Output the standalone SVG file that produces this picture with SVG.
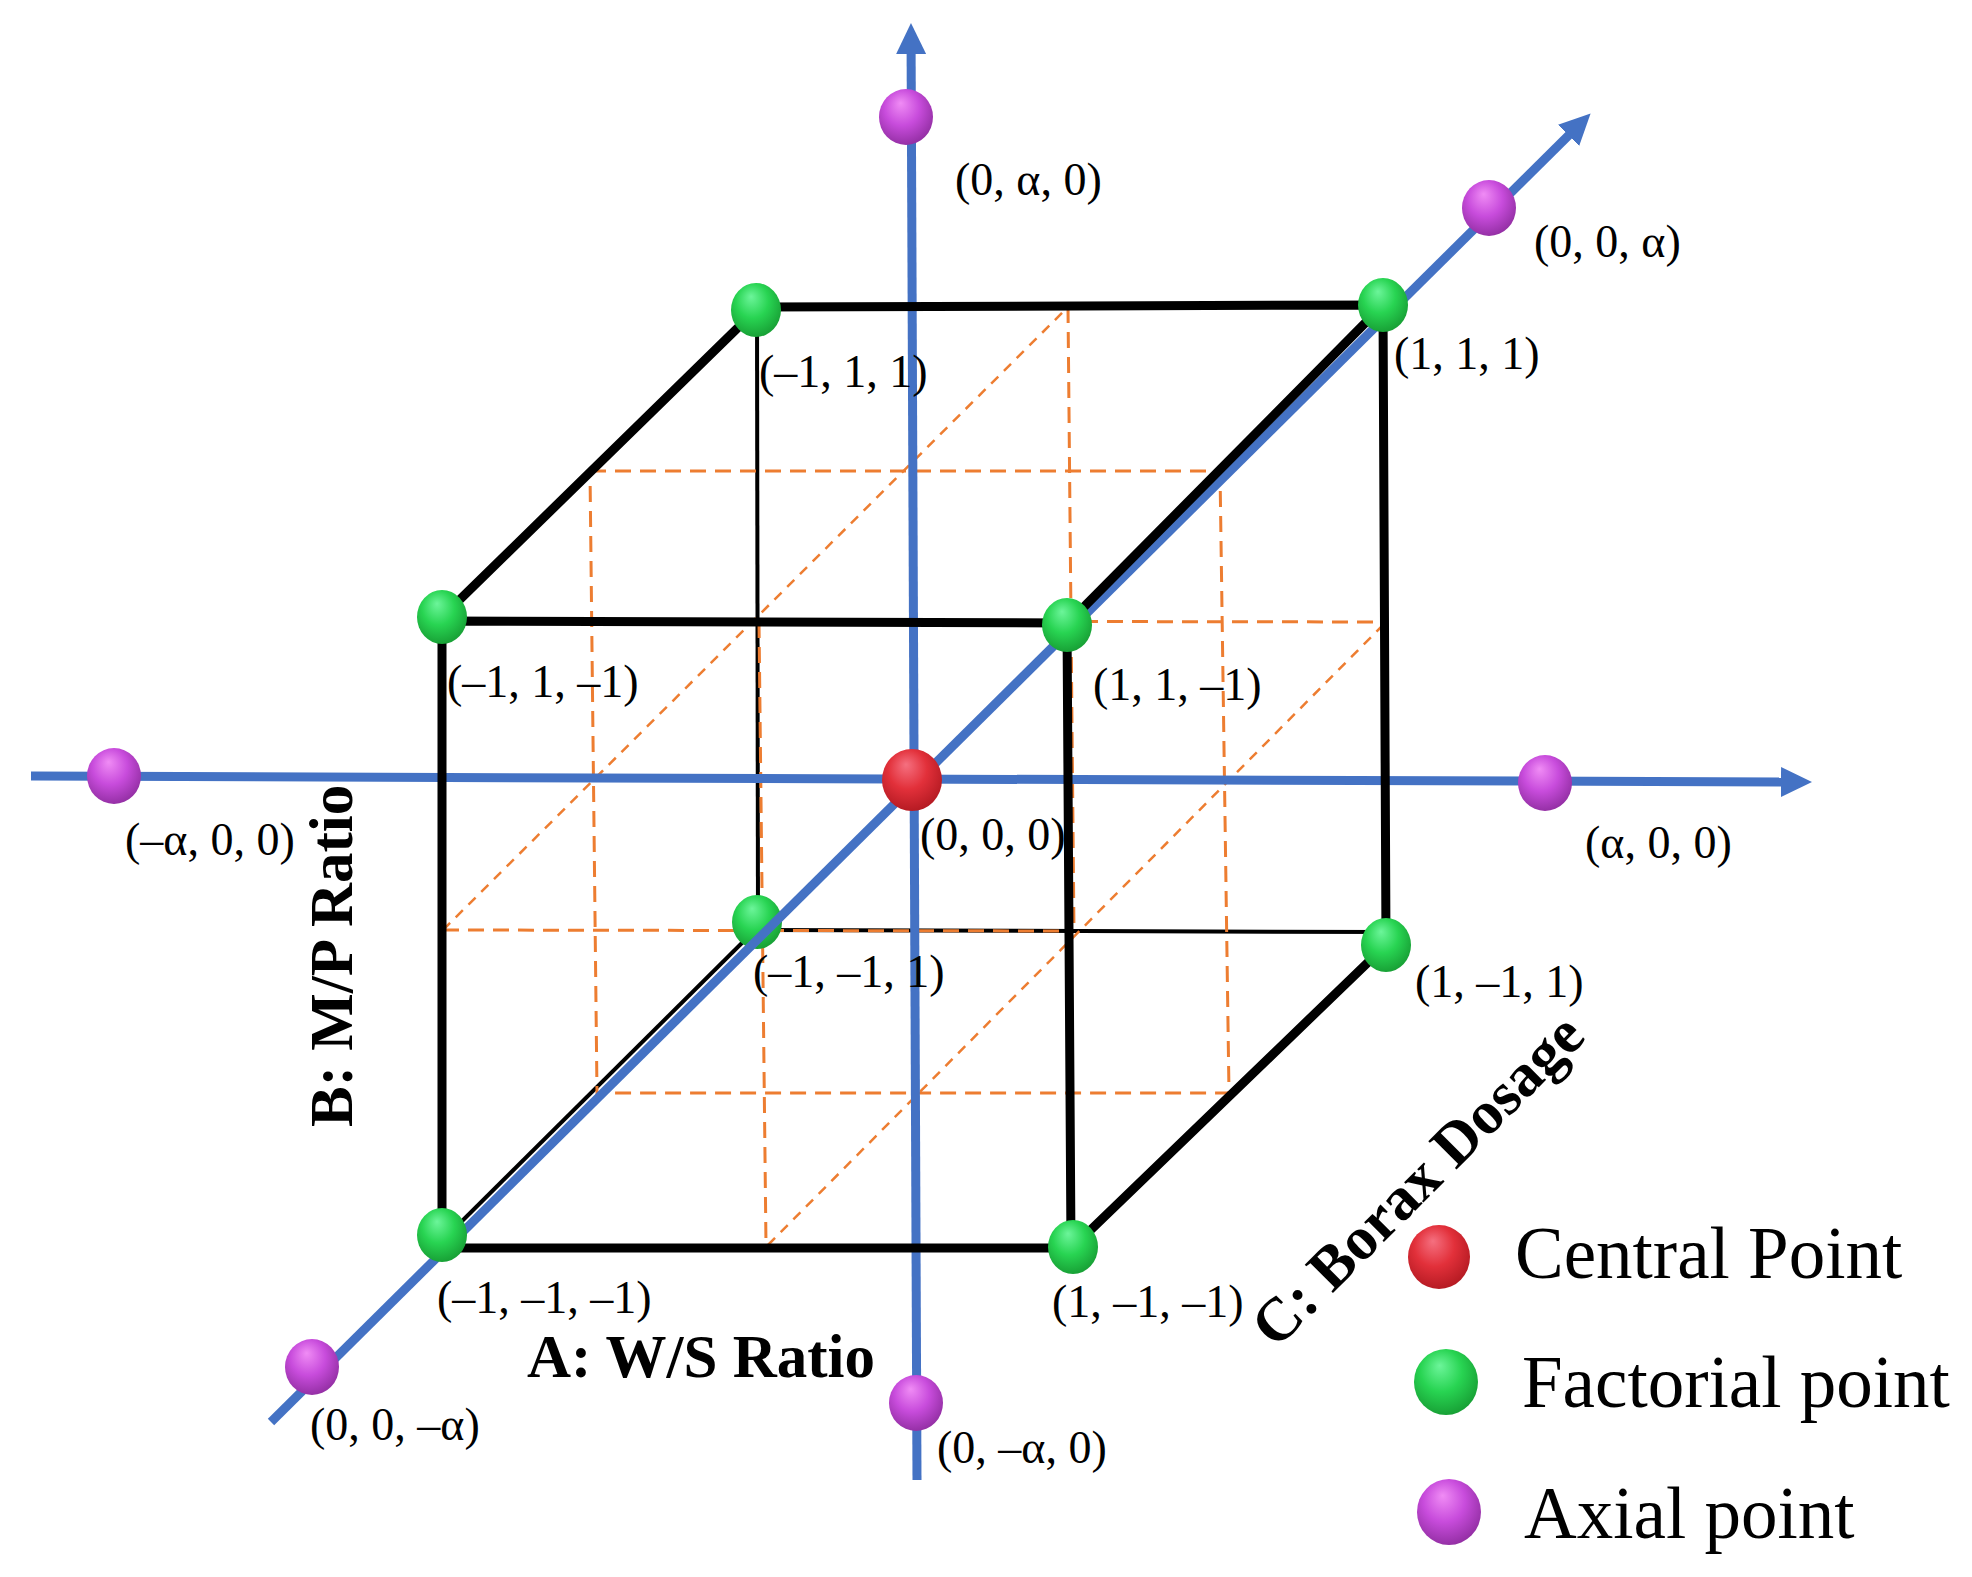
<svg xmlns="http://www.w3.org/2000/svg" width="1972" height="1577" viewBox="0 0 1972 1577">
<style>
.lbl{font-family:"Liberation Serif","Times New Roman",serif;font-size:46px;fill:#000}
.ax{font-family:"Liberation Serif","Times New Roman",serif;font-size:61px;font-weight:bold;fill:#000}
.leg{font-family:"Liberation Serif","Times New Roman",serif;font-size:73px;fill:#000}
.thick{stroke:#000;stroke-width:9;fill:none;stroke-linecap:round}
.thin{stroke:#000;stroke-width:4;fill:none}
.dash{stroke:#ED7D31;stroke-width:3;fill:none;stroke-dasharray:16 9}
.ddiag{stroke:#ED7D31;stroke-width:2.5;fill:none;stroke-dasharray:10 8}
.axis{stroke:#4472C4;stroke-width:9;fill:none;marker-end:url(#arr)}
.g{fill:url(#gG)}
.r{fill:url(#gR)}
.p{fill:url(#gP)}
</style>
<defs>
<radialGradient id="gG" cx="0.45" cy="0.4" r="0.65" fx="0.4" fy="0.25">
<stop offset="0" stop-color="#6CF59A"/><stop offset="0.5" stop-color="#28D452"/><stop offset="1" stop-color="#169A32"/>
</radialGradient>
<radialGradient id="gR" cx="0.45" cy="0.4" r="0.65" fx="0.4" fy="0.25">
<stop offset="0" stop-color="#F57080"/><stop offset="0.5" stop-color="#E2303A"/><stop offset="1" stop-color="#B01820"/>
</radialGradient>
<radialGradient id="gP" cx="0.45" cy="0.4" r="0.65" fx="0.4" fy="0.25">
<stop offset="0" stop-color="#F08CF5"/><stop offset="0.5" stop-color="#C84CDC"/><stop offset="1" stop-color="#8E2C9E"/>
</radialGradient>
<marker id="arr" markerUnits="userSpaceOnUse" markerWidth="32" markerHeight="30" viewBox="0 0 32 30" refX="2" refY="15" orient="auto">
<path d="M0,0 L31,15 L0,30 z" fill="#4472C4"/>
</marker>
</defs>

<g id="hidden-edges">
<line class="thin" x1="757" y1="310" x2="758" y2="930"/>
<line class="thin" x1="757" y1="930" x2="1386" y2="932"/>
<line class="thin" x1="757" y1="928" x2="446" y2="1237"/>
</g>

<g id="mid-planes">
<polygon class="dash" points="590,471 1220,471 1229,1093 597,1093"/>
<line class="ddiag" x1="443" y1="930" x2="1068" y2="307"/>
<line class="ddiag" x1="768" y1="1245" x2="1386" y2="622"/>
<line class="dash" x1="443" y1="930" x2="1072" y2="931"/>
<line class="dash" x1="757" y1="621" x2="1386" y2="622"/>
<line class="dash" x1="1068" y1="307" x2="1074" y2="932"/>
<line class="dash" x1="759" y1="622" x2="766" y2="1245"/>
</g>

<g id="node-m1m11">
<ellipse class="g" cx="757" cy="922" rx="25" ry="27"/>
</g>

<g id="connectors">
<line class="axis" x1="917" y1="1480" x2="911.1" y2="52"/>
<line class="axis" x1="31" y1="776" x2="1783" y2="782"/>
<line class="axis" x1="271" y1="1422" x2="1570" y2="134"/>
</g>

<g id="cube-edges">
<polyline class="thick" points="442,621 1067,623 1071,1248 442,1248 442,621"/>
<polyline class="thick" points="756,307 1383,305 1386,945"/>
<line class="thick" x1="442" y1="617" x2="756" y2="310"/>
<line class="thick" x1="1067" y1="624" x2="1383" y2="305"/>
<line class="thick" x1="1073" y1="1247" x2="1386" y2="945"/>
</g>

<g id="node-center"><ellipse class="r" cx="912" cy="780" rx="30" ry="31"/><text class="lbl" x="920" y="850">(0, 0, 0)</text></g>

<g id="node-m111"><ellipse class="g" cx="756" cy="310" rx="25" ry="27"/><text class="lbl" x="759" y="387">(–1, 1, 1)</text></g>
<g id="node-111"><ellipse class="g" cx="1383" cy="305" rx="25" ry="27"/><text class="lbl" x="1394" y="369">(1, 1, 1)</text></g>
<g id="node-m11m1"><ellipse class="g" cx="442" cy="617" rx="25" ry="27"/><text class="lbl" x="447" y="697">(–1, 1, –1)</text></g>
<g id="node-11m1"><ellipse class="g" cx="1067" cy="625" rx="25" ry="27"/><text class="lbl" x="1093" y="700">(1, 1, –1)</text></g>
<g id="node-m1m11-label"><text class="lbl" x="753" y="987">(–1, –1, 1)</text></g>
<g id="node-1m11"><ellipse class="g" cx="1386" cy="945" rx="25" ry="27"/><text class="lbl" x="1415" y="997">(1, –1, 1)</text></g>
<g id="node-m1m1m1"><ellipse class="g" cx="442" cy="1235" rx="25" ry="27"/><text class="lbl" x="437" y="1313">(–1, –1, –1)</text></g>
<g id="node-1m1m1"><ellipse class="g" cx="1073" cy="1247" rx="25" ry="27"/><text class="lbl" x="1052" y="1317">(1, –1, –1)</text></g>

<g id="node-0a0"><ellipse class="p" cx="906" cy="117" rx="27" ry="28"/><text class="lbl" x="955" y="195">(0, α, 0)</text></g>
<g id="node-00a"><ellipse class="p" cx="1489" cy="208" rx="27" ry="28"/><text class="lbl" x="1534" y="257">(0, 0, α)</text></g>
<g id="node-ma00"><ellipse class="p" cx="114" cy="776" rx="27" ry="28"/><text class="lbl" x="125" y="855">(–α, 0, 0)</text></g>
<g id="node-a00"><ellipse class="p" cx="1545" cy="783" rx="27" ry="28"/><text class="lbl" x="1585" y="858">(α, 0, 0)</text></g>
<g id="node-00ma"><ellipse class="p" cx="312" cy="1367" rx="27" ry="28"/><text class="lbl" x="310" y="1440">(0, 0, –α)</text></g>
<g id="node-0ma0"><ellipse class="p" cx="916" cy="1403" rx="27" ry="28"/><text class="lbl" x="937" y="1463">(0, –α, 0)</text></g>

<g id="axis-titles">
<text class="ax" x="527" y="1377">A: W/S Ratio</text>
<text class="ax" transform="translate(352,1127) rotate(-90)">B: M/P Ratio</text>
<text class="ax" transform="translate(1276,1350) rotate(-45)">C: Borax Dosage</text>
</g>

<g id="legend">
<ellipse class="r" cx="1439" cy="1257" rx="31" ry="32"/><text class="leg" x="1515" y="1278">Central Point</text>
<ellipse class="g" cx="1446" cy="1382" rx="32" ry="33"/><text class="leg" x="1522" y="1407">Factorial point</text>
<ellipse class="p" cx="1449" cy="1512" rx="32" ry="33"/><text class="leg" x="1524" y="1538">Axial point</text>
</g>
</svg>
